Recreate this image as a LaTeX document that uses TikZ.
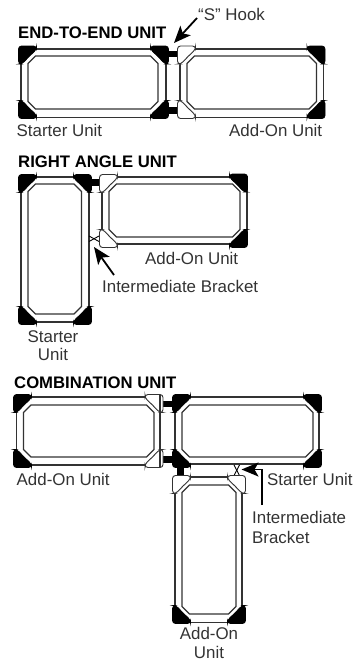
\documentclass[tikz,border=0pt]{standalone}
\usepackage{fontspec}
\setmainfont{Liberation Sans}
\usetikzlibrary{arrows.meta}
\definecolor{inkgray}{gray}{0.2}
\tikzset{
  frameline/.style={line width=1.15pt,color=inkgray},
  label/.style={anchor=base west,inner sep=0pt,text=inkgray,font=\fontsize{16.9}{18}\selectfont},
  clabel/.style={label,anchor=base},
  heading/.style={anchor=base west,inner sep=0pt,text=black,font=\fontsize{16.7}{18}\selectfont\bfseries},
  blackcorner/.style={draw=black,fill=black,line width=0.8pt,rounded corners=3pt},
  whitecorner/.style={draw=inkgray,fill=white,line width=0.9pt,rounded corners=3pt},
  hookbar/.style={draw=none,fill=black},
  callout/.style={line width=1.8pt,-{Stealth[length=17pt,width=14pt,inset=4pt]}},
  bracket/.style={line width=0.9pt}
}
\newcommand{\unitframe}[8]{
  \draw[frameline,fill=white] (#1,#2) rectangle (#3,#4);
  \draw[frameline] ({#5+7.5},#6)--({#7-7.5},#6)--(#7,{#6+7.5})--(#7,{#8-7.5})--({#7-7.5},#8)--({#5+7.5},#8)--(#5,{#8-7.5})--(#5,{#6+7.5})--cycle;
}
\newcommand{\cornerpiece}[5]{
  \draw[#1] ({#2+#4*10.5},{#3+#5*10.5})--({#2+#4*3.5},{#3+#5*18})--(#2,{#3+#5*18})--(#2,#3)--({#2+#4*18},#3)--({#2+#4*18},{#3+#5*3.5})--cycle;
}
\begin{document}
\begin{tikzpicture}[x=1pt,y=-1pt]
  \useasboundingbox (0,0) rectangle (357,662);
  \node[label] (hooklabel) at (198,20) {“S” Hook};
  \node[heading] (titleend) at (18,38.7) {END-TO-END UNIT};
  \unitframe{21}{49}{166}{117.5}{28}{56}{158}{109}
  \unitframe{180}{49}{323.5}{117.5}{187}{56}{316.5}{109}
  \fill[hookbar] (168,51) rectangle (179,57);
  \fill[hookbar] (168,107) rectangle (179,114);
  \cornerpiece{blackcorner}{18.5}{46}{1}{1}
  \cornerpiece{blackcorner}{168.5}{46}{-1}{1}
  \cornerpiece{blackcorner}{18.5}{118.5}{1}{-1}
  \cornerpiece{blackcorner}{168.5}{118.5}{-1}{-1}
  \cornerpiece{whitecorner}{177.5}{46}{1}{1}
  \cornerpiece{whitecorner}{177.5}{118.5}{1}{-1}
  \cornerpiece{blackcorner}{325}{46}{-1}{1}
  \cornerpiece{blackcorner}{325}{118.5}{-1}{-1}
  \coordinate (hookstart) at (197,18);
  \coordinate (hooktip) at (174,43);
  \draw[callout] (hookstart)--(hooktip);
  \node[label] (starterend) at (16.5,136) {Starter Unit};
  \node[label] (addonend) at (229,136) {Add-On Unit};

  \node[heading] (titleright) at (18,167.5) {RIGHT ANGLE UNIT};
  \unitframe{21}{177}{89}{322}{28}{184}{81.5}{314}
  \unitframe{102}{177}{247}{244}{109}{184}{240}{237}
  \draw[bracket] (89,236)--(99,241.5);
  \draw[bracket] (89,241.5)--(99,236);
  \fill[hookbar] (91,179) rectangle (101,186);
  \cornerpiece{blackcorner}{18.5}{174.5}{1}{1}
  \cornerpiece{blackcorner}{91.5}{174.5}{-1}{1}
  \cornerpiece{blackcorner}{18.5}{324.5}{1}{-1}
  \cornerpiece{blackcorner}{91.5}{324.5}{-1}{-1}
  \cornerpiece{whitecorner}{99.5}{174.5}{1}{1}
  \cornerpiece{whitecorner}{99.5}{247.5}{1}{-1}
  \cornerpiece{blackcorner}{247.5}{174}{-1}{1}
  \cornerpiece{blackcorner}{247.5}{247.5}{-1}{-1}
  \node[label] (addonright) at (145,264) {Add-On Unit};
  \node[label] (bracketright) at (102,292) {Intermediate Bracket};
  \coordinate (bracketstart) at (114,275);
  \coordinate (brackettip) at (94,247);
  \draw[callout] (bracketstart)--(brackettip);
  \node[clabel] (starterright) at (53,342) {Starter};
  \node[clabel] (starterrighttwo) at (53,360.5) {Unit};

  \node[heading] (titlecombo) at (14,388) {COMBINATION UNIT};
  \unitframe{16.5}{397}{160}{465}{23.5}{405}{154}{457}
  \unitframe{175}{397}{319}{464}{182}{405}{313}{457}
  \unitframe{175}{477}{242}{622.5}{182}{485}{236}{614}
  \draw[bracket] (234,465)--(239.5,475.5);
  \draw[bracket] (239.5,465)--(234,475.5);
  \fill[hookbar] (161,401) rectangle (173,407);
  \fill[hookbar] (161,456) rectangle (173,462.5);
  \fill[hookbar] (177,462) rectangle (184,477);
  \cornerpiece{blackcorner}{13.5}{394.5}{1}{1}
  \cornerpiece{blackcorner}{13.5}{467.5}{1}{-1}
  \cornerpiece{whitecorner}{163}{394.5}{-1}{1}
  \cornerpiece{whitecorner}{163}{467.5}{-1}{-1}
  \draw[frameline] (160,395)--(160,467);
  \cornerpiece{blackcorner}{172.5}{394.5}{1}{1}
  \cornerpiece{blackcorner}{321.5}{394.5}{-1}{1}
  \cornerpiece{blackcorner}{172.5}{467.5}{1}{-1}
  \cornerpiece{blackcorner}{321.5}{467.5}{-1}{-1}
  \cornerpiece{whitecorner}{172.5}{475.5}{1}{1}
  \cornerpiece{whitecorner}{245.5}{475.5}{-1}{1}
  \cornerpiece{blackcorner}{172.5}{623.5}{1}{-1}
  \cornerpiece{blackcorner}{245.5}{623.5}{-1}{-1}
  \coordinate (elbowstart) at (262,505);
  \coordinate (elbowturn) at (262,469.5);
  \coordinate (elbowtip) at (241.5,469.5);
  \draw[callout] (elbowstart)--(elbowturn)--(elbowtip);
  \node[label] (addoncombo) at (16.5,485) {Add-On Unit};
  \node[label] (startercombo) at (267,485) {Starter Unit};
  \node[label] (bracketcombo) at (252,523) {Intermediate};
  \node[label] (bracketcombotwo) at (252,543) {Bracket};
  \node[clabel] (addonlow) at (209,639) {Add-On};
  \node[clabel] (addonlowtwo) at (209,658) {Unit};
\end{tikzpicture}
\end{document}
